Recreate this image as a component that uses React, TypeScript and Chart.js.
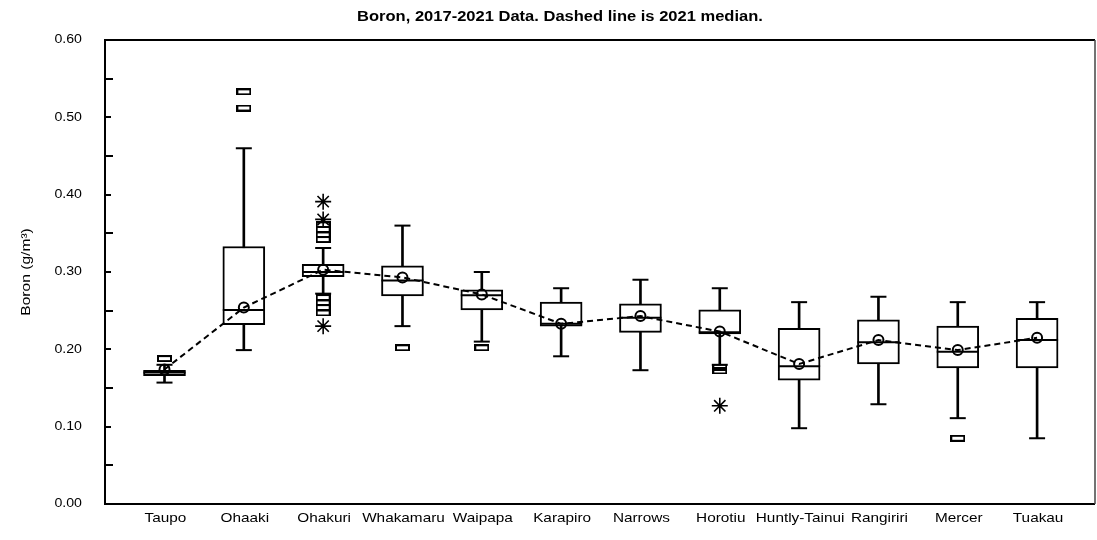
import React, { useEffect, useRef } from "react";
import { Chart, registerables } from "chart.js";

Chart.register(...registerables);

const categories = ["Taupo", "Ohaaki", "Ohakuri", "Whakamaru", "Waipapa", "Karapiro", "Narrows", "Horotiu", "Huntly-Tainui", "Rangiriri", "Mercer", "Tuakau"];
const q1 = [0.166, 0.232, 0.294, 0.269, 0.251, 0.230, 0.222, 0.220, 0.160, 0.181, 0.176, 0.176];
const q3 = [0.173, 0.333, 0.310, 0.308, 0.277, 0.261, 0.259, 0.251, 0.227, 0.238, 0.230, 0.240];
const medians = [0.170, 0.251, 0.300, 0.289, 0.270, 0.233, 0.241, 0.222, 0.178, 0.209, 0.197, 0.212];
const whiskerLow = [0.157, 0.199, 0.272, 0.230, 0.210, 0.191, 0.173, 0.180, 0.098, 0.129, 0.111, 0.085];
const whiskerHigh = [0.180, 0.460, 0.331, 0.360, 0.300, 0.279, 0.290, 0.279, 0.261, 0.268, 0.261, 0.261];
const median2021 = [0.174, 0.254, 0.303, 0.293, 0.271, 0.233, 0.243, 0.223, 0.181, 0.212, 0.199, 0.215];
const outliers: number[][] = [[0.188], [0.512, 0.533], [0.342, 0.348, 0.355, 0.361, 0.247, 0.254, 0.260, 0.267], [0.202], [0.202], [], [], [0.172, 0.177], [], [], [0.085], []];
const farOutliers: number[][] = [[], [], [0.391, 0.368, 0.230], [], [], [], [], [0.127], [], [], [], []];
const yTickValues = [0, 0.1, 0.2, 0.3, 0.4, 0.5, 0.6];
const yTickLabels = ["0.00", "0.10", "0.20", "0.30", "0.40", "0.50", "0.60"];
const yMinorValues = [0.05, 0.15, 0.25, 0.35, 0.45, 0.55];
const titleText = "Boron, 2017-2021 Data. Dashed line is 2021 median.";
const yTitle = "Boron (g/m³)";

const FONT = "'Liberation Sans', Arial, sans-serif";
const STRETCH = 1.18;

function makeRectStyle() {
  const c = document.createElement("canvas");
  c.width = 15;
  c.height = 7;
  const g = c.getContext("2d")!;
  g.strokeStyle = "#000";
  g.lineWidth = 2;
  g.strokeRect(1, 1, 13, 5);
  return c;
}

const framePlugin = {
  id: "frame",
  afterDraw(chart: any) {
    const ctx = chart.ctx as CanvasRenderingContext2D;
    const { left, right, top, bottom } = chart.chartArea;
    const ys = chart.scales.y;
    const xs = chart.scales.x;
    ctx.save();
    ctx.strokeStyle = "#000";
    ctx.lineWidth = 2;
    ctx.beginPath();
    ctx.moveTo(right, top);
    ctx.lineTo(left, top);
    ctx.lineTo(left, bottom);
    ctx.lineTo(right, bottom);
    ctx.stroke();
    ctx.strokeStyle = "#444";
    ctx.lineWidth = 1.5;
    ctx.beginPath();
    ctx.moveTo(right, top);
    ctx.lineTo(right, bottom);
    ctx.stroke();
    ctx.strokeStyle = "#000";
    ctx.lineWidth = 2;
    ctx.beginPath();
    yTickValues.forEach((v) => {
      const y = Math.round(ys.getPixelForValue(v));
      ctx.moveTo(left, y);
      ctx.lineTo(left + 6, y);
    });
    yMinorValues.forEach((v) => {
      const y = Math.round(ys.getPixelForValue(v));
      ctx.moveTo(left, y);
      ctx.lineTo(left + 8, y);
    });
    ctx.stroke();
    ctx.fillStyle = "#000";
    ctx.font = `12px ${FONT}`;
    ctx.textAlign = "right";
    ctx.textBaseline = "middle";
    yTickValues.forEach((v, i) => {
      const y = ys.getPixelForValue(v);
      ctx.save();
      ctx.translate(left - 23, y);
      ctx.scale(STRETCH, 1);
      ctx.fillText(yTickLabels[i], 0, 0);
      ctx.restore();
    });
    ctx.font = `13px ${FONT}`;
    ctx.textAlign = "center";
    categories.forEach((c, i) => {
      const x = xs.getPixelForValue(i);
      ctx.save();
      ctx.translate(x + 1, bottom + 14);
      ctx.scale(STRETCH, 1);
      ctx.fillText(c, 0, 0);
      ctx.restore();
    });
    ctx.font = `bold 14px ${FONT}`;
    ctx.save();
    ctx.translate(560, 17);
    ctx.scale(STRETCH, 1);
    ctx.fillText(titleText, 0, 0);
    ctx.restore();
    ctx.font = `12px ${FONT}`;
    ctx.save();
    ctx.translate(27, (top + bottom) / 2);
    ctx.rotate(-Math.PI / 2);
    ctx.scale(1.3, 1);
    ctx.fillText(yTitle, 0, 0);
    ctx.restore();
    ctx.restore();
  },
};

export default function App() {
  const ref = useRef<HTMLCanvasElement>(null);
  useEffect(() => {
    if (!ref.current) return;
    const rectStyle = makeRectStyle();
    const idx = categories.map((_, i) => i);
    const outPts: { x: number; y: number }[] = [];
    outliers.forEach((arr, i) => arr.forEach((v) => outPts.push({ x: i, y: v })));
    const farPts: { x: number; y: number }[] = [];
    farOutliers.forEach((arr, i) => arr.forEach((v) => farPts.push({ x: i, y: v })));
    const capPts: { x: number; y: number }[] = [];
    idx.forEach((i) => {
      capPts.push({ x: i, y: whiskerLow[i] });
      capPts.push({ x: i, y: whiskerHigh[i] });
    });
    const chart = new Chart(ref.current, {
      type: "bar",
      data: {
        datasets: [
          {
            type: "bar",
            label: "whiskers",
            data: idx.map((i) => ({ x: i, y: [whiskerLow[i], whiskerHigh[i]] })) as any,
            backgroundColor: "#000",
            borderWidth: 0,
            barThickness: 2,
            grouped: false,
            order: 6,
          } as any,
          {
            type: "bar",
            label: "box",
            data: idx.map((i) => ({ x: i, y: [q1[i], q3[i]] })) as any,
            backgroundColor: "#fff",
            borderColor: "#000",
            borderWidth: 2,
            borderSkipped: false,
            barThickness: 42,
            grouped: false,
            order: 5,
          } as any,
          {
            type: "scatter",
            label: "median",
            data: idx.map((i) => ({ x: i, y: medians[i] })),
            pointStyle: "line",
            pointRadius: 21,
            borderColor: "#000",
            borderWidth: 2,
            order: 4,
          } as any,
          {
            type: "scatter",
            label: "caps",
            data: capPts,
            pointStyle: "line",
            pointRadius: 8,
            borderColor: "#000",
            borderWidth: 2,
            order: 4,
          } as any,
          {
            type: "scatter",
            label: "outliers",
            data: outPts,
            pointStyle: rectStyle,
            pointRadius: 7,
            order: 3,
          } as any,
          {
            type: "scatter",
            label: "far outliers",
            data: farPts,
            pointStyle: "star",
            pointRadius: 8,
            borderColor: "#000",
            borderWidth: 1.6,
            order: 3,
          } as any,
          {
            type: "line",
            label: "2021 median",
            data: idx.map((i) => ({ x: i, y: median2021[i] })),
            borderColor: "#000",
            borderWidth: 2,
            borderDash: [6, 4],
            pointStyle: "circle",
            pointRadius: 5,
            pointBorderWidth: 2,
            pointBackgroundColor: "rgba(0,0,0,0)",
            pointBorderColor: "#000",
            fill: false,
            tension: 0,
            order: 1,
          } as any,
        ],
      },
      options: {
        responsive: false,
        animation: false,
        devicePixelRatio: 1,
        layout: { autoPadding: false, padding: { left: 105, right: 2, top: 40, bottom: 36 } },
        plugins: { legend: { display: false }, tooltip: { enabled: false }, title: { display: false } },
        scales: {
          x: { type: "linear", min: -0.75, max: 11.73, display: false, offset: false },
          y: { type: "linear", min: 0, max: 0.6, display: false },
        },
      } as any,
      plugins: [framePlugin],
    });
    return () => chart.destroy();
  }, []);
  return (
    <div style={{ position: "fixed", left: 0, top: 0, width: 1097, height: 540, background: "#fff" }}>
      <canvas ref={ref} width={1097} height={540} />
    </div>
  );
}
